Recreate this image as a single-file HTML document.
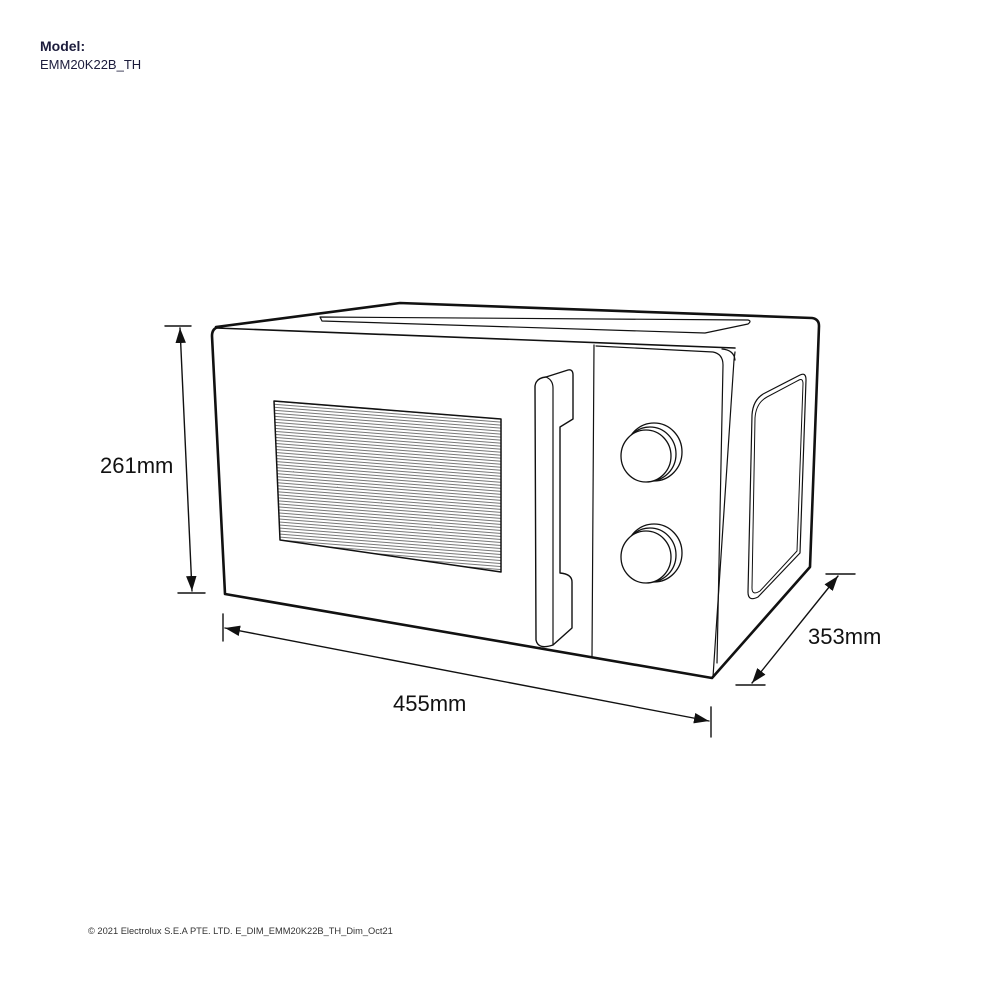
<!DOCTYPE html>
<html><head><meta charset="utf-8"><style>
html,body{margin:0;padding:0;background:#fff;}
body{width:1000px;height:1000px;position:relative;overflow:hidden;font-family:"Liberation Sans",sans-serif;}
.t{position:absolute;color:#1c1c3c;white-space:nowrap;}
</style></head><body>
<div class="t" style="left:40px;top:38px;font-size:14px;font-weight:bold;">Model:</div>
<div class="t" style="left:40px;top:57px;font-size:13px;">EMM20K22B_TH</div>
<div class="t" style="left:88px;top:926px;font-size:9.3px;color:#333;">© 2021 Electrolux S.E.A PTE. LTD. E_DIM_EMM20K22B_TH_Dim_Oct21</div>
<svg width="1000" height="1000" style="position:absolute;left:0;top:0" xmlns="http://www.w3.org/2000/svg">
<defs>
<pattern id="hp" width="4" height="3" patternUnits="userSpaceOnUse" patternTransform="rotate(4.5)">
<rect width="4" height="3" fill="#fff"/><line x1="0" y1="0.5" x2="4" y2="0.5" stroke="#777" stroke-width="1"/>
</pattern>
<marker id="ar" viewBox="0 0 10 10" refX="10" refY="5" markerWidth="15" markerHeight="15" orient="auto-start-reverse" markerUnits="userSpaceOnUse"><path d="M0,1.5 L10,5 L0,8.5 z" fill="#111"/></marker>
</defs>
<g fill="none" stroke="#111" stroke-linejoin="round" stroke-linecap="round">
<path d="M216,327 L400,303 L812,318 Q819,319 819,326 L810,567 L712,678 L225,594 L212,336 Q212,328 219,327" stroke-width="2.6"/>
<path d="M216,328 L735,348" stroke-width="1.6"/>
<path d="M735,352 L734,360 L713,677" stroke-width="1.2"/>
<path d="M320,317 L748,320 Q752,321 748,324 L705,333 L322,321 Z" stroke-width="1.2"/>
<path d="M594,345 L592,657" stroke-width="1.2"/>
<path d="M596,346 L713,352 Q723,354 723,365 L717,663" stroke-width="1.2"/>
<path d="M722,349 Q734,350 735,360" stroke-width="1.2"/>
<path d="M274,401 L501,419 L501,572 L280,540 Z" fill="url(#hp)" stroke-width="1.5"/>
<path d="M535,386 Q536,378 546,377 L568,370 Q573,369 573,375 L573,419 L560,427 L560,573 Q572,574 572,582 L572,628 L553,645 Q538,650 536,640 Z" stroke-width="1.4" fill="#fff"/>
<path d="M546,377 Q553,380 553,388 L553,645" stroke-width="1.2"/>
<g stroke-width="1.3" fill="#fff">
<ellipse cx="654" cy="452" rx="28" ry="29"/><ellipse cx="650" cy="454" rx="26" ry="27"/><ellipse cx="646" cy="456" rx="25" ry="26"/>
<ellipse cx="654" cy="553" rx="28" ry="29"/><ellipse cx="650" cy="555" rx="26" ry="27"/><ellipse cx="646" cy="557" rx="25" ry="26"/>
</g>
<path d="M765,393 L800,375 Q806,372 806,380 L800,553 L758,597 Q748,602 748,592 L752,415 Q753,399 765,393 Z" stroke-width="1.2"/>
<path d="M767,397 L799,380 Q803,378 803,384 L797,551 L760,591 Q752,596 752,588 L755,418 Q756,403 767,397 Z" stroke-width="1"/>
<g stroke-width="1.4">
<line x1="165" y1="326" x2="191" y2="326"/><line x1="178" y1="593" x2="205" y2="593"/>
<line x1="180" y1="328" x2="192" y2="591" marker-start="url(#ar)" marker-end="url(#ar)"/>
<line x1="223" y1="614" x2="223" y2="641"/><line x1="711" y1="707" x2="711" y2="737"/>
<line x1="225" y1="628" x2="709" y2="721" marker-start="url(#ar)" marker-end="url(#ar)"/>
<line x1="826" y1="574" x2="855" y2="574"/><line x1="736" y1="685" x2="765" y2="685"/>
<line x1="838" y1="576" x2="752" y2="683" marker-start="url(#ar)" marker-end="url(#ar)"/>
</g>
</g>
<g font-family="Liberation Sans, sans-serif" font-size="22" fill="#111">
<text x="100" y="473">261mm</text>
<text x="393" y="711">455mm</text>
<text x="808" y="644">353mm</text>
</g>
</svg>
</body></html>
